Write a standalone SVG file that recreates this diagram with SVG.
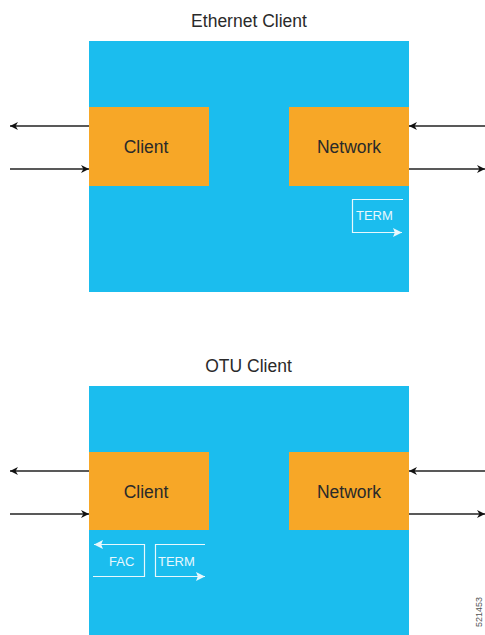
<svg xmlns="http://www.w3.org/2000/svg" width="485" height="635" viewBox="0 0 485 635">
<style>
.t{font-family:"Liberation Sans",Arial,sans-serif;fill:#2a2a2a;text-anchor:middle}
.ttl{font-size:17.5px}
.lbl{font-size:17.5px}
.blue{fill:#1bbdee}
.org{fill:#f7a727}
.conn{stroke:#222;stroke-width:1.3;fill:none}
.w{stroke:#fff;stroke-width:1.2;fill:none;opacity:0.9}
.wt{font-family:"Liberation Sans",Arial,sans-serif;font-size:13px;fill:#fff;opacity:0.9}
</style>
<defs>
<marker id="ah" viewBox="0 0 10 10" refX="10" refY="5" markerWidth="8" markerHeight="8" markerUnits="userSpaceOnUse" orient="auto-start-reverse" overflow="visible">
<path d="M0,0 L10,5 L0,10 L3,5 Z" fill="#111"/>
</marker>
<marker id="wh" viewBox="0 0 10 10" refX="10" refY="5" markerWidth="10" markerHeight="9" markerUnits="userSpaceOnUse" orient="auto-start-reverse" overflow="visible">
<path d="M0,0 L10,5 L0,10 L2,5 Z" fill="#fff"/>
</marker>
</defs>
<rect width="485" height="635" fill="#fff"/>
<g id="ethernet">
<text class="t ttl" x="249" y="27">Ethernet Client</text>
<rect class="blue" x="89" y="41" width="320" height="251"/>
<g id="eth-client"><rect class="org" x="89" y="107" width="120" height="79"/><text class="t lbl" x="146" y="153">Client</text></g>
<g id="eth-network"><rect class="org" x="289" y="107" width="120" height="79"/><text class="t lbl" x="349" y="153">Network</text></g>
<g id="eth-term">
<polyline class="w" points="403,199.5 352.5,199.5 352.5,232.5 402,232.5" marker-end="url(#wh)"/>
<text class="wt" x="356" y="220">TERM</text>
</g>
</g>
<g id="otu">
<text class="t ttl" x="248.5" y="372">OTU Client</text>
<rect class="blue" x="89" y="386" width="320" height="249"/>
<g id="otu-client"><rect class="org" x="89" y="452" width="120" height="78"/><text class="t lbl" x="146" y="498">Client</text></g>
<g id="otu-network"><rect class="org" x="289" y="452" width="120" height="78"/><text class="t lbl" x="349" y="498">Network</text></g>
<g id="otu-fac">
<polyline class="w" points="93,576.5 144.5,576.5 144.5,544.5 94,544.5" marker-end="url(#wh)"/>
<text class="wt" x="109" y="566">FAC</text>
</g>
<g id="otu-term">
<polyline class="w" points="205,544.5 155.5,544.5 155.5,576.5 205,576.5" marker-end="url(#wh)"/>
<text class="wt" x="158" y="566">TERM</text>
</g>
</g>
<g id="connectors">
<line class="conn" x1="89" y1="126" x2="10" y2="126" marker-end="url(#ah)"/>
<line class="conn" x1="10" y1="169" x2="89" y2="169" marker-end="url(#ah)"/>
<line class="conn" x1="485" y1="126" x2="409" y2="126" marker-end="url(#ah)"/>
<line class="conn" x1="409" y1="169" x2="485" y2="169" marker-end="url(#ah)"/>
<line class="conn" x1="89" y1="471" x2="10" y2="471" marker-end="url(#ah)"/>
<line class="conn" x1="10" y1="514" x2="89" y2="514" marker-end="url(#ah)"/>
<line class="conn" x1="485" y1="471" x2="409" y2="471" marker-end="url(#ah)"/>
<line class="conn" x1="409" y1="514" x2="485" y2="514" marker-end="url(#ah)"/>
</g>
<text x="482" y="612" transform="rotate(-90 482 612)" font-family="Liberation Sans,Arial,sans-serif" font-size="9" fill="#555" text-anchor="middle">521453</text>
</svg>
